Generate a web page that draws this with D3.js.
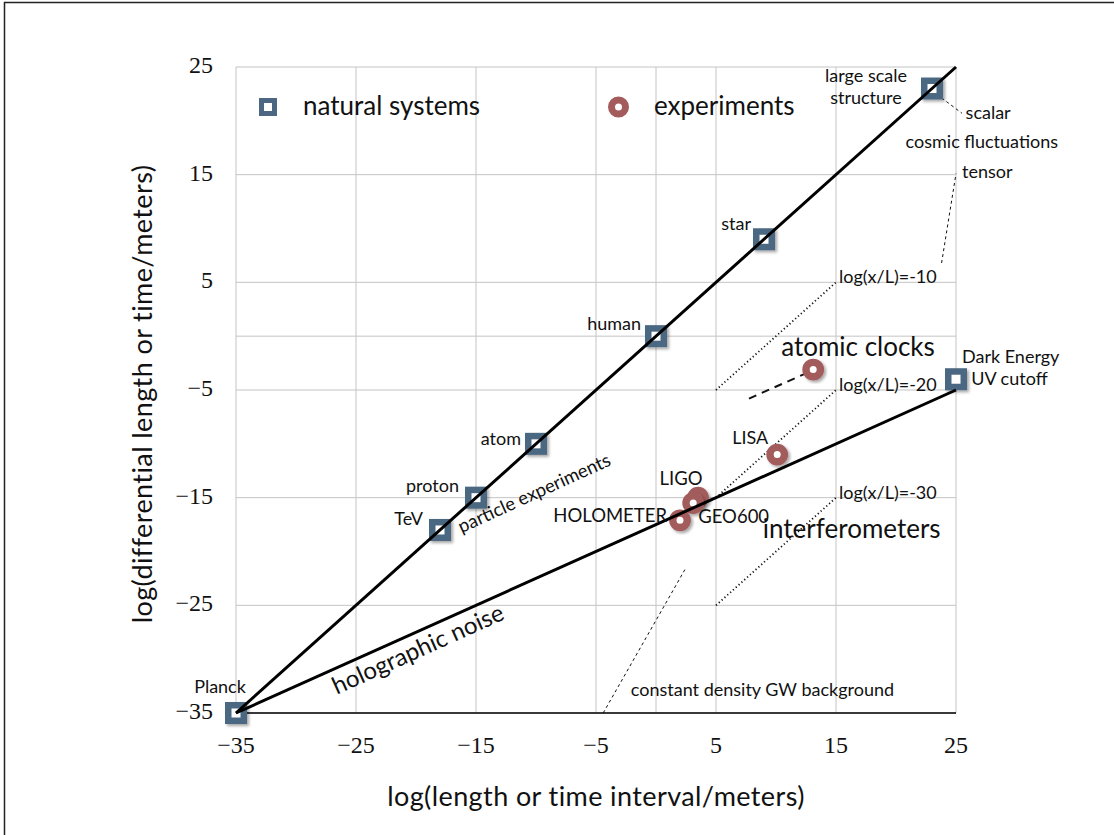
<!DOCTYPE html>
<html>
<head>
<meta charset="utf-8">
<script src="https://cdn.jsdelivr.net/npm/d3@7"></script>
<style>
    body { margin: 0; background: white; }
    svg { font-family: Lato, 'Noto Sans', sans-serif; }
    .grid line { stroke: #c4c4c4; stroke-width: 1; }
    .tick-label { font-family: 'Liberation Serif', serif; font-size: 24px; fill: #111; }
    .axis-title { font-size: 27px; letter-spacing: 0.4px; fill: #111; }
    .small-label { font-size: 18px; fill: #111; }
    .mid-label { font-size: 18.5px; fill: #111; }
    .big-label { font-size: 26px; fill: #111; }
</style>
</head>
<body>
<div id="chart"></div>
<script>
// axis ticks (log10 units)
const tickValues = [-35, -25, -15, -5, 5, 15, 25];
const extraGrid = [0];

// natural systems
const naturalNames = ['Planck', 'TeV', 'proton', 'atom', 'human', 'star', 'large scale structure', 'Dark Energy UV cutoff'];
const naturalX = [-35, -18, -15, -10, 0, 9, 23, 25];
const naturalY = [-35, -18, -15, -10, 0, 9, 23, -4];

// experiments
const experimentNames = ['atomic clocks', 'LISA', 'LIGO', 'GEO600', 'HOLOMETER'];
const experimentX = [13.1, 10.1, 3.5, 3.1, 2.0];
const experimentY = [-3.1, -11, -15, -15.5, -17.1];

// reference lines
const equalLine = [[-35, -35], [25, 25]];
const holoLine = [[-35, -35], [25, -5]];
const ratioOffsets = [-10, -20, -30];
const ratioXRange = [5, 15];
const clockLine = [[7.75, -5.8], [13, -3.2]];
const gwLine = [[-4.4, -35], [2.5, -21.5]];
const tensorLine = [[23.8, 6.8], [25, 15.1]];
const scalarLine = [[23, 22.8], [25.5, 20.7]];

function drawChart() {
    let svgWidth = 1114,
        svgHeight = 835,
        svg = d3.select('#chart').append('svg')
                .attr('width', svgWidth).attr('height', svgHeight),
        xScale = d3.scaleLinear().domain([-35, 25]).range([236, 956]),
        yScale = d3.scaleLinear().domain([-35, 25]).range([713, 67]),
        fmt = d3.format('');

    // page frame (left + top edges only)
    svg.append('path').attr('d', 'M4.5,835 V2.5 H1114')
       .attr('fill', 'none').attr('stroke', '#222').attr('stroke-width', 1.5);

    let defs = svg.append('defs');
    let shadow = defs.append('filter').attr('id', 'shadow')
                     .attr('x', -0.5).attr('y', -0.5).attr('width', 2).attr('height', 2);
    shadow.append('feDropShadow').attr('dx', 2).attr('dy', 2)
          .attr('stdDeviation', 1.6).attr('flood-color', '#000').attr('flood-opacity', 0.35);

    // grid
    let grid = svg.append('g').attr('class', 'grid');
    let gx = tickValues.concat(extraGrid);
    grid.selectAll('line.v').data(gx).enter().append('line').attr('class', 'v')
        .attr('x1', d => xScale(d)).attr('x2', d => xScale(d))
        .attr('y1', yScale(25)).attr('y2', yScale(-35));
    grid.selectAll('line.h').data(gx).enter().append('line').attr('class', 'h')
        .attr('y1', d => yScale(d)).attr('y2', d => yScale(d))
        .attr('x1', xScale(-35)).attr('x2', xScale(25));

    // bottom axis line
    svg.append('line')
       .attr('x1', xScale(-35) - 1).attr('x2', xScale(25))
       .attr('y1', yScale(-35)).attr('y2', yScale(-35))
       .attr('stroke', '#000').attr('stroke-width', 1.5);

    // tick labels
    svg.append('g').selectAll('text').data(tickValues).enter().append('text')
       .attr('class', 'tick-label')
       .attr('x', d => xScale(d)).attr('y', 753)
       .attr('text-anchor', 'middle')
       .text(d => fmt(d));
    svg.append('g').selectAll('text').data(tickValues).enter().append('text')
       .attr('class', 'tick-label')
       .attr('x', 213).attr('y', d => yScale(d) + 6)
       .attr('text-anchor', 'end')
       .text(d => fmt(d));

    // axis titles
    svg.append('text').attr('class', 'axis-title')
       .attr('x', 596).attr('y', 806).attr('text-anchor', 'middle')
       .text('log(length or time interval/meters)');
    svg.append('text').attr('class', 'axis-title')
       .attr('transform', 'translate(152, 394) rotate(-90)')
       .attr('text-anchor', 'middle')
       .text('log(differential length or time/meters)');

    let line = d3.line().x(d => xScale(d[0])).y(d => yScale(d[1]));

    // thin dashed annotation lines
    [gwLine, tensorLine, scalarLine].forEach(pts => {
        svg.append('path').attr('d', line(pts))
           .attr('fill', 'none').attr('stroke', '#111')
           .attr('stroke-width', 1).attr('stroke-dasharray', '3 3');
    });

    // log(x/L) dotted lines
    ratioOffsets.forEach(off => {
        let pts = ratioXRange.map(x => [x, x + off]);
        svg.append('path').attr('d', line(pts))
           .attr('fill', 'none').attr('stroke', '#111')
           .attr('stroke-width', 1.8).attr('stroke-dasharray', '1.2 2.6');
        svg.append('text').attr('class', 'small-label')
           .attr('x', xScale(ratioXRange[1]) + 3).attr('y', yScale(ratioXRange[1] + off) + 1)
           .text('log(x/L)=' + off);
    });

    // atomic clock dashed line
    svg.append('path').attr('d', line(clockLine))
       .attr('fill', 'none').attr('stroke', '#111')
       .attr('stroke-width', 2).attr('stroke-dasharray', '8 6');

    // markers: natural systems
    let natural = naturalNames.map((n, i) => ({name: n, x: naturalX[i], y: naturalY[i]}));
    svg.append('g').selectAll('rect').data(natural).enter().append('rect')
       .attr('x', d => xScale(d.x) - 7.75).attr('y', d => yScale(d.y) - 7.75)
       .attr('width', 15.5).attr('height', 15.5)
       .attr('fill', 'white').attr('stroke', '#4c6782').attr('stroke-width', 6.5)
       .attr('filter', 'url(#shadow)');

    // markers: experiments
    let exps = experimentNames.map((n, i) => ({name: n, x: experimentX[i], y: experimentY[i]}));
    svg.append('g').selectAll('circle').data(exps).enter().append('circle')
       .attr('cx', d => xScale(d.x)).attr('cy', d => yScale(d.y))
       .attr('r', 7.2)
       .attr('fill', 'white').attr('stroke', '#a35b5c').attr('stroke-width', 7.4)
       .attr('filter', 'url(#shadow)');

    // main lines on top
    [equalLine, holoLine].forEach(pts => {
        svg.append('path').attr('d', line(pts))
           .attr('fill', 'none').attr('stroke', '#000').attr('stroke-width', 3);
    });

    // point labels: [dx, dy, anchor, class, lines]
    let pointLabels = {
        'Planck': [-16, -20, 'middle', 'small-label', ['Planck']],
        'TeV': [-17, -5, 'end', 'small-label', ['TeV']],
        'proton': [-17, -6, 'end', 'small-label', ['proton']],
        'atom': [-15, 1, 'end', 'small-label', ['atom']],
        'human': [-15, -6, 'end', 'small-label', ['human']],
        'star': [-13, -9, 'end', 'small-label', ['star']],
        'large scale structure': [-66, -7, 'middle', 'small-label', ['large scale', 'structure']],
        'Dark Energy UV cutoff': [6, -16, 'start', 'small-label', ['Dark Energy', '\u00a0\u00a0UV cutoff']],
        'atomic clocks': [-32, -14, 'start', 'big-label', ['atomic clocks']],
        'LISA': [-27, -11, 'middle', 'small-label', ['LISA']],
        'LIGO': [-17, -13, 'middle', 'mid-label', ['LIGO']],
        'GEO600': [5, 20, 'start', 'mid-label', ['GEO600']],
        'HOLOMETER': [-13, 2, 'end', 'mid-label', ['HOLOMETER']]
    };
    natural.concat(exps).forEach(d => {
        let l = pointLabels[d.name];
        let t = svg.append('text').attr('class', l[3]).attr('text-anchor', l[2]);
        l[4].forEach((s, i) => {
            t.append('tspan')
             .attr('x', xScale(d.x) + l[0])
             .attr('y', yScale(d.y) + l[1] + i * 22)
             .text(s);
        });
    });

    // free annotations (data coordinates)
    let notes = [
        [25.8, 20.2, 'scalar', 'small-label'],
        [20.8, 17.5, 'cosmic fluctuations', 'small-label'],
        [25.5, 14.7, 'tensor', 'small-label'],
        [8.9, -18.75, 'interferometers', 'big-label'],
        [-2.1, -33.4, 'constant density GW background', 'small-label']
    ];
    notes.forEach(n => {
        svg.append('text').attr('class', n[3])
           .attr('x', xScale(n[0])).attr('y', yScale(n[1]))
           .text(n[2]);
    });

    // rotated labels
    svg.append('text').attr('class', 'mid-label')
       .attr('transform', `translate(${xScale(-16.2)}, ${yScale(-18.3)}) rotate(-24.5)`)
       .text('particle experiments');
    svg.append('text').attr('class', 'big-label').style('font-size', '24px')
       .attr('transform', `translate(${xScale(-26.6)}, ${yScale(-33.3)}) rotate(-24.2)`)
       .text('holographic noise');

    // legend
    svg.append('rect').attr('x', 261.5).attr('y', 100.5).attr('width', 13).attr('height', 13)
       .attr('fill', 'white').attr('stroke', '#4c6782').attr('stroke-width', 5);
    svg.append('text').attr('class', 'big-label').attr('x', 303).attr('y', 115)
       .text('natural systems');
    svg.append('circle').attr('cx', 618.5).attr('cy', 107).attr('r', 7)
       .attr('fill', 'white').attr('stroke', '#a35b5c').attr('stroke-width', 7);
    svg.append('text').attr('class', 'big-label').attr('x', 654).attr('y', 115)
       .text('experiments');
}

drawChart();
</script>
</body>
</html>
